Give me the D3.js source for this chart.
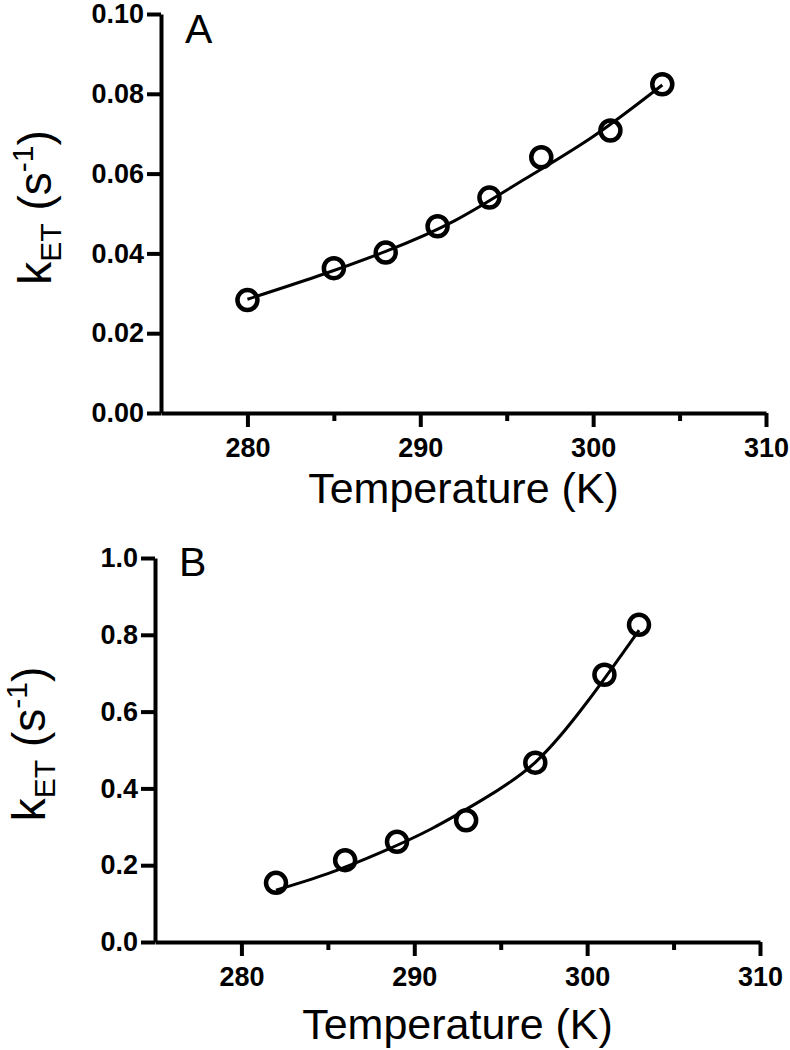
<!DOCTYPE html>
<html><head><meta charset="utf-8">
<script src="https://cdn.jsdelivr.net/npm/d3@7"></script>
<style>
body{margin:0;background:#fff}
svg{display:block}
text{font-family:"Liberation Sans",Arial,Helvetica,sans-serif;fill:#000}
</style>
</head><body>
<svg id="c" width="790" height="1050"></svg>
<script>
// ---- data ----
const xMajorTicks = [280, 290, 300, 310];
const xMinorTicks = [285, 295, 305];

const tempA = [280, 285, 288, 291, 294, 297, 301, 304];
const kA    = [0.0283, 0.0363, 0.0402, 0.0468, 0.0540, 0.0641, 0.0708, 0.0824];
const fitTA = [280, 284, 288, 292, 296, 300, 304];
const fitKA = [0.0285, 0.0342, 0.0405, 0.0482, 0.0585, 0.0693, 0.0822];
const yTicksA = [0, 0.02, 0.04, 0.06, 0.08, 0.10];

const tempB = [282, 286, 289, 293, 297, 301, 303];
const kB    = [0.154, 0.213, 0.261, 0.317, 0.467, 0.696, 0.826];
const fitTB = [282, 285, 288, 291, 294, 297, 300, 303];
const fitKB = [0.135, 0.178, 0.232, 0.295, 0.372, 0.468, 0.625, 0.812];
const yTicksB = [0, 0.2, 0.4, 0.6, 0.8, 1.0];

const svg = d3.select("#c");

function panel(cfg) {
  const x = d3.scaleLinear().domain([275, 310]).range([cfg.x0, cfg.x1]);
  const y = d3.scaleLinear().domain([0, cfg.ymax]).range([cfg.yb, cfg.yt]);
  const g = svg.append("g");

  const ya = g.append("g").attr("transform", `translate(${cfg.x0},0)`)
    .call(d3.axisLeft(y).tickValues(cfg.yTicks).tickFormat(d3.format(cfg.fmt))
      .tickSize(14).tickSizeOuter(0).tickPadding(3));
  const xa = g.append("g").attr("transform", `translate(0,${cfg.yb})`)
    .call(d3.axisBottom(x).tickValues(xMajorTicks).tickFormat(d3.format("d"))
      .tickSize(14).tickSizeOuter(0).tickPadding(11));
  const xm = g.append("g").attr("transform", `translate(0,${cfg.yb})`)
    .call(d3.axisBottom(x).tickValues(xMinorTicks).tickFormat("")
      .tickSize(8).tickSizeOuter(0));
  xm.select(".domain").remove();
  [ya, xa, xm].forEach(a => {
    a.selectAll("path,line").attr("stroke", "#000").attr("stroke-width", 4);
    a.selectAll("text").attr("font-size", 27).attr("font-weight", "bold")
      .attr("fill", "#000").style("font-family", '"Liberation Sans",Arial,sans-serif');
  });

  const fit = cfg.fitT.map((t, i) => [t, cfg.fitK[i]]);
  g.append("path").datum(fit)
    .attr("fill", "none").attr("stroke", "#000").attr("stroke-width", 3)
    .attr("d", d3.line().x(d => x(d[0])).y(d => y(d[1])).curve(d3.curveNatural));

  const pts = cfg.temp.map((t, i) => [t, cfg.k[i]]);
  g.selectAll("circle.pt").data(pts).join("circle").attr("class", "pt")
    .attr("cx", d => x(d[0])).attr("cy", d => y(d[1])).attr("r", 10)
    .attr("fill", "none").attr("stroke", "#000").attr("stroke-width", 4.5);

  g.append("text").attr("x", cfg.x0 + 24).attr("y", cfg.yt + cfg.letterDy)
    .attr("font-size", 41).text(cfg.letter);

  g.append("text").attr("x", (cfg.x0 + cfg.x1) / 2).attr("y", cfg.yb + cfg.titleDy)
    .attr("text-anchor", "middle").attr("font-size", 43).text("Temperature (K)");

  const yt = g.append("text")
    .attr("transform", `translate(${cfg.x0 - 110},${(cfg.yb + cfg.yt) / 2 - 6}) rotate(-90)`)
    .attr("text-anchor", "middle").attr("font-size", 46);
  yt.append("tspan").text("k");
  yt.append("tspan").attr("font-size", 30).attr("dy", 10).text("ET");
  yt.append("tspan").attr("dy", -10).text(" (s");
  yt.append("tspan").attr("font-size", 30).attr("dy", -18).text("-1");
  yt.append("tspan").attr("dy", 18).text(")");
}

panel({x0: 161, x1: 766, yt: 14, yb: 413, ymax: 0.10, yTicks: yTicksA, fmt: ".2f",
  temp: tempA, k: kA, fitT: fitTA, fitK: fitKA, letter: "A", letterDy: 29, titleDy: 90});
panel({x0: 155, x1: 760, yt: 558, yb: 942, ymax: 1.0, yTicks: yTicksB, fmt: ".1f",
  temp: tempB, k: kB, fitT: fitTB, fitK: fitKB, letter: "B", letterDy: 18, titleDy: 97});
</script>
</body></html>
